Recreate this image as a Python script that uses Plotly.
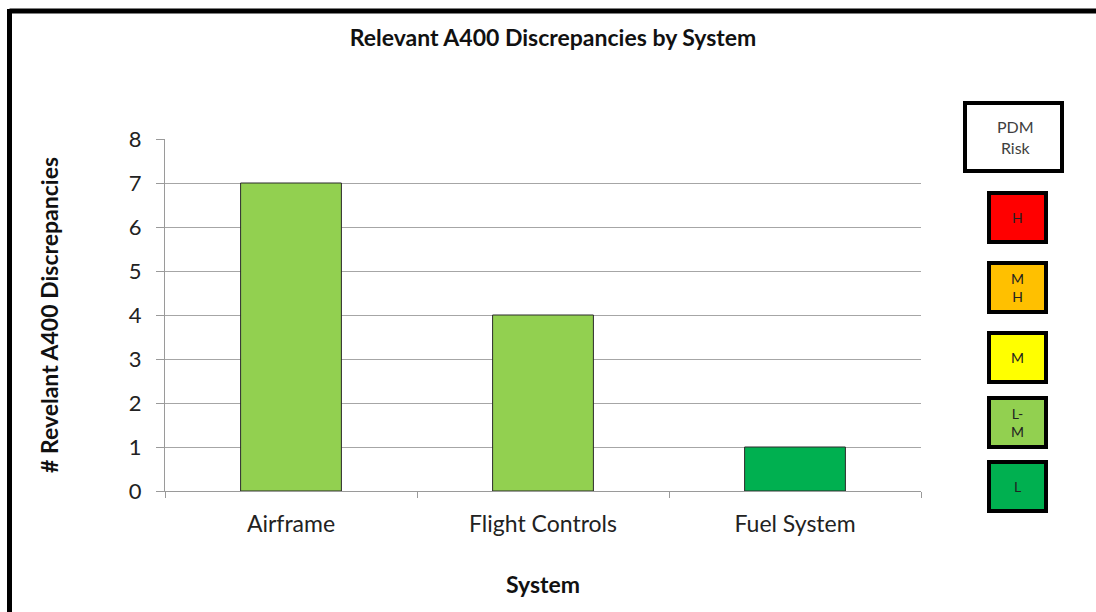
import plotly.graph_objects as go

# Discrepancy counts per aircraft system
systems = ["Airframe", "Flight Controls", "Fuel System"]
discrepancies = [7, 4, 1]
bar_risk = ["L-M", "L-M", "L"]

# PDM risk key
risk_labels = ["H", "M<br>H", "M", "L-<br>M", "L"]
risk_keys = ["H", "M-H", "M", "L-M", "L"]
risk_colors = ["#FF0000", "#FFC000", "#FFFF00", "#92D050", "#00B050"]
color_of = dict(zip(risk_keys, risk_colors))

W, H = 1096, 612
L, R, T, B = 165, 921, 139, 491  # plot area in pixels
FONT = "Lato, 'Open Sans', sans-serif"


def px(x):
    return (x - L) / (R - L)


def py(y):
    return (B - y) / (B - T)


fig = go.Figure(
    go.Bar(
        x=systems,
        y=discrepancies,
        width=0.4,
        marker=dict(color=[color_of[r] for r in bar_risk], line=dict(color="#2a2a2a", width=1)),
    )
)

shapes = [
    # outer frame edges
    dict(type="line", xref="paper", yref="paper", x0=px(9.5), x1=px(1100), y0=py(11), y1=py(11),
         line=dict(color="black", width=5)),
    dict(type="line", xref="paper", yref="paper", x0=px(9.5), x1=px(9.5), y0=py(9), y1=py(620),
         line=dict(color="black", width=5)),
    # key header box
    dict(type="rect", xref="paper", yref="paper", x0=px(965), x1=px(1062), y0=py(103), y1=py(171),
         fillcolor="white", line=dict(color="black", width=4)),
]
annotations = [
    dict(text="PDM<br>Risk", xref="paper", yref="paper", x=px(1015), y=py(137), showarrow=False,
         font=dict(family=FONT, size=16, color="#404040"), xanchor="center", yanchor="middle"),
]

box_tops = [193, 263, 333, 398, 462]
for lab, col, top in zip(risk_labels, risk_colors, box_tops):
    shapes.append(dict(type="rect", xref="paper", yref="paper", x0=px(989), x1=px(1046),
                       y0=py(top), y1=py(top + 49), fillcolor=col, line=dict(color="black", width=4)))
    annotations.append(dict(text=lab, xref="paper", yref="paper", x=px(1017.5), y=py(top + 24.5),
                            showarrow=False, font=dict(family=FONT, size=14, color="#222222"),
                            xanchor="center", yanchor="middle"))

fig.update_layout(
    width=W, height=H,
    margin=dict(l=L, r=W - R, t=T, b=H - B),
    paper_bgcolor="white", plot_bgcolor="white",
    showlegend=False,
    title=dict(text="<b>Relevant A400 Discrepancies by System</b>", x=553 / W, xanchor="center",
               y=1 - 38 / H, yanchor="middle", font=dict(family=FONT, size=23, color="#111111")),
    shapes=shapes,
    annotations=annotations,
    xaxis=dict(
        showline=True, linecolor="#9a9a9a", linewidth=1,
        ticks="outside", tickson="boundaries", ticklen=6, tickcolor="#9a9a9a",
        ticklabelstandoff=12,
        tickfont=dict(family=FONT, size=23, color="#222222"),
        title=dict(text="<b>System</b>", font=dict(family=FONT, size=23, color="#111111"), standoff=41),
        showgrid=False,
    ),
    yaxis=dict(
        range=[0, 8], dtick=1,
        showline=True, linecolor="#9a9a9a", linewidth=1,
        ticks="outside", ticklen=8, tickcolor="#9a9a9a",
        ticklabelstandoff=10,
        showgrid=True, gridcolor="#a6a6a6", gridwidth=1, zeroline=False,
        tickfont=dict(family=FONT, size=22, color="#222222"),
        title=dict(text="<b># Revelant A400 Discrepancies</b>",
                   font=dict(family=FONT, size=23, color="#111111"), standoff=63),
    ),
)

fig.write_html("out.html")
